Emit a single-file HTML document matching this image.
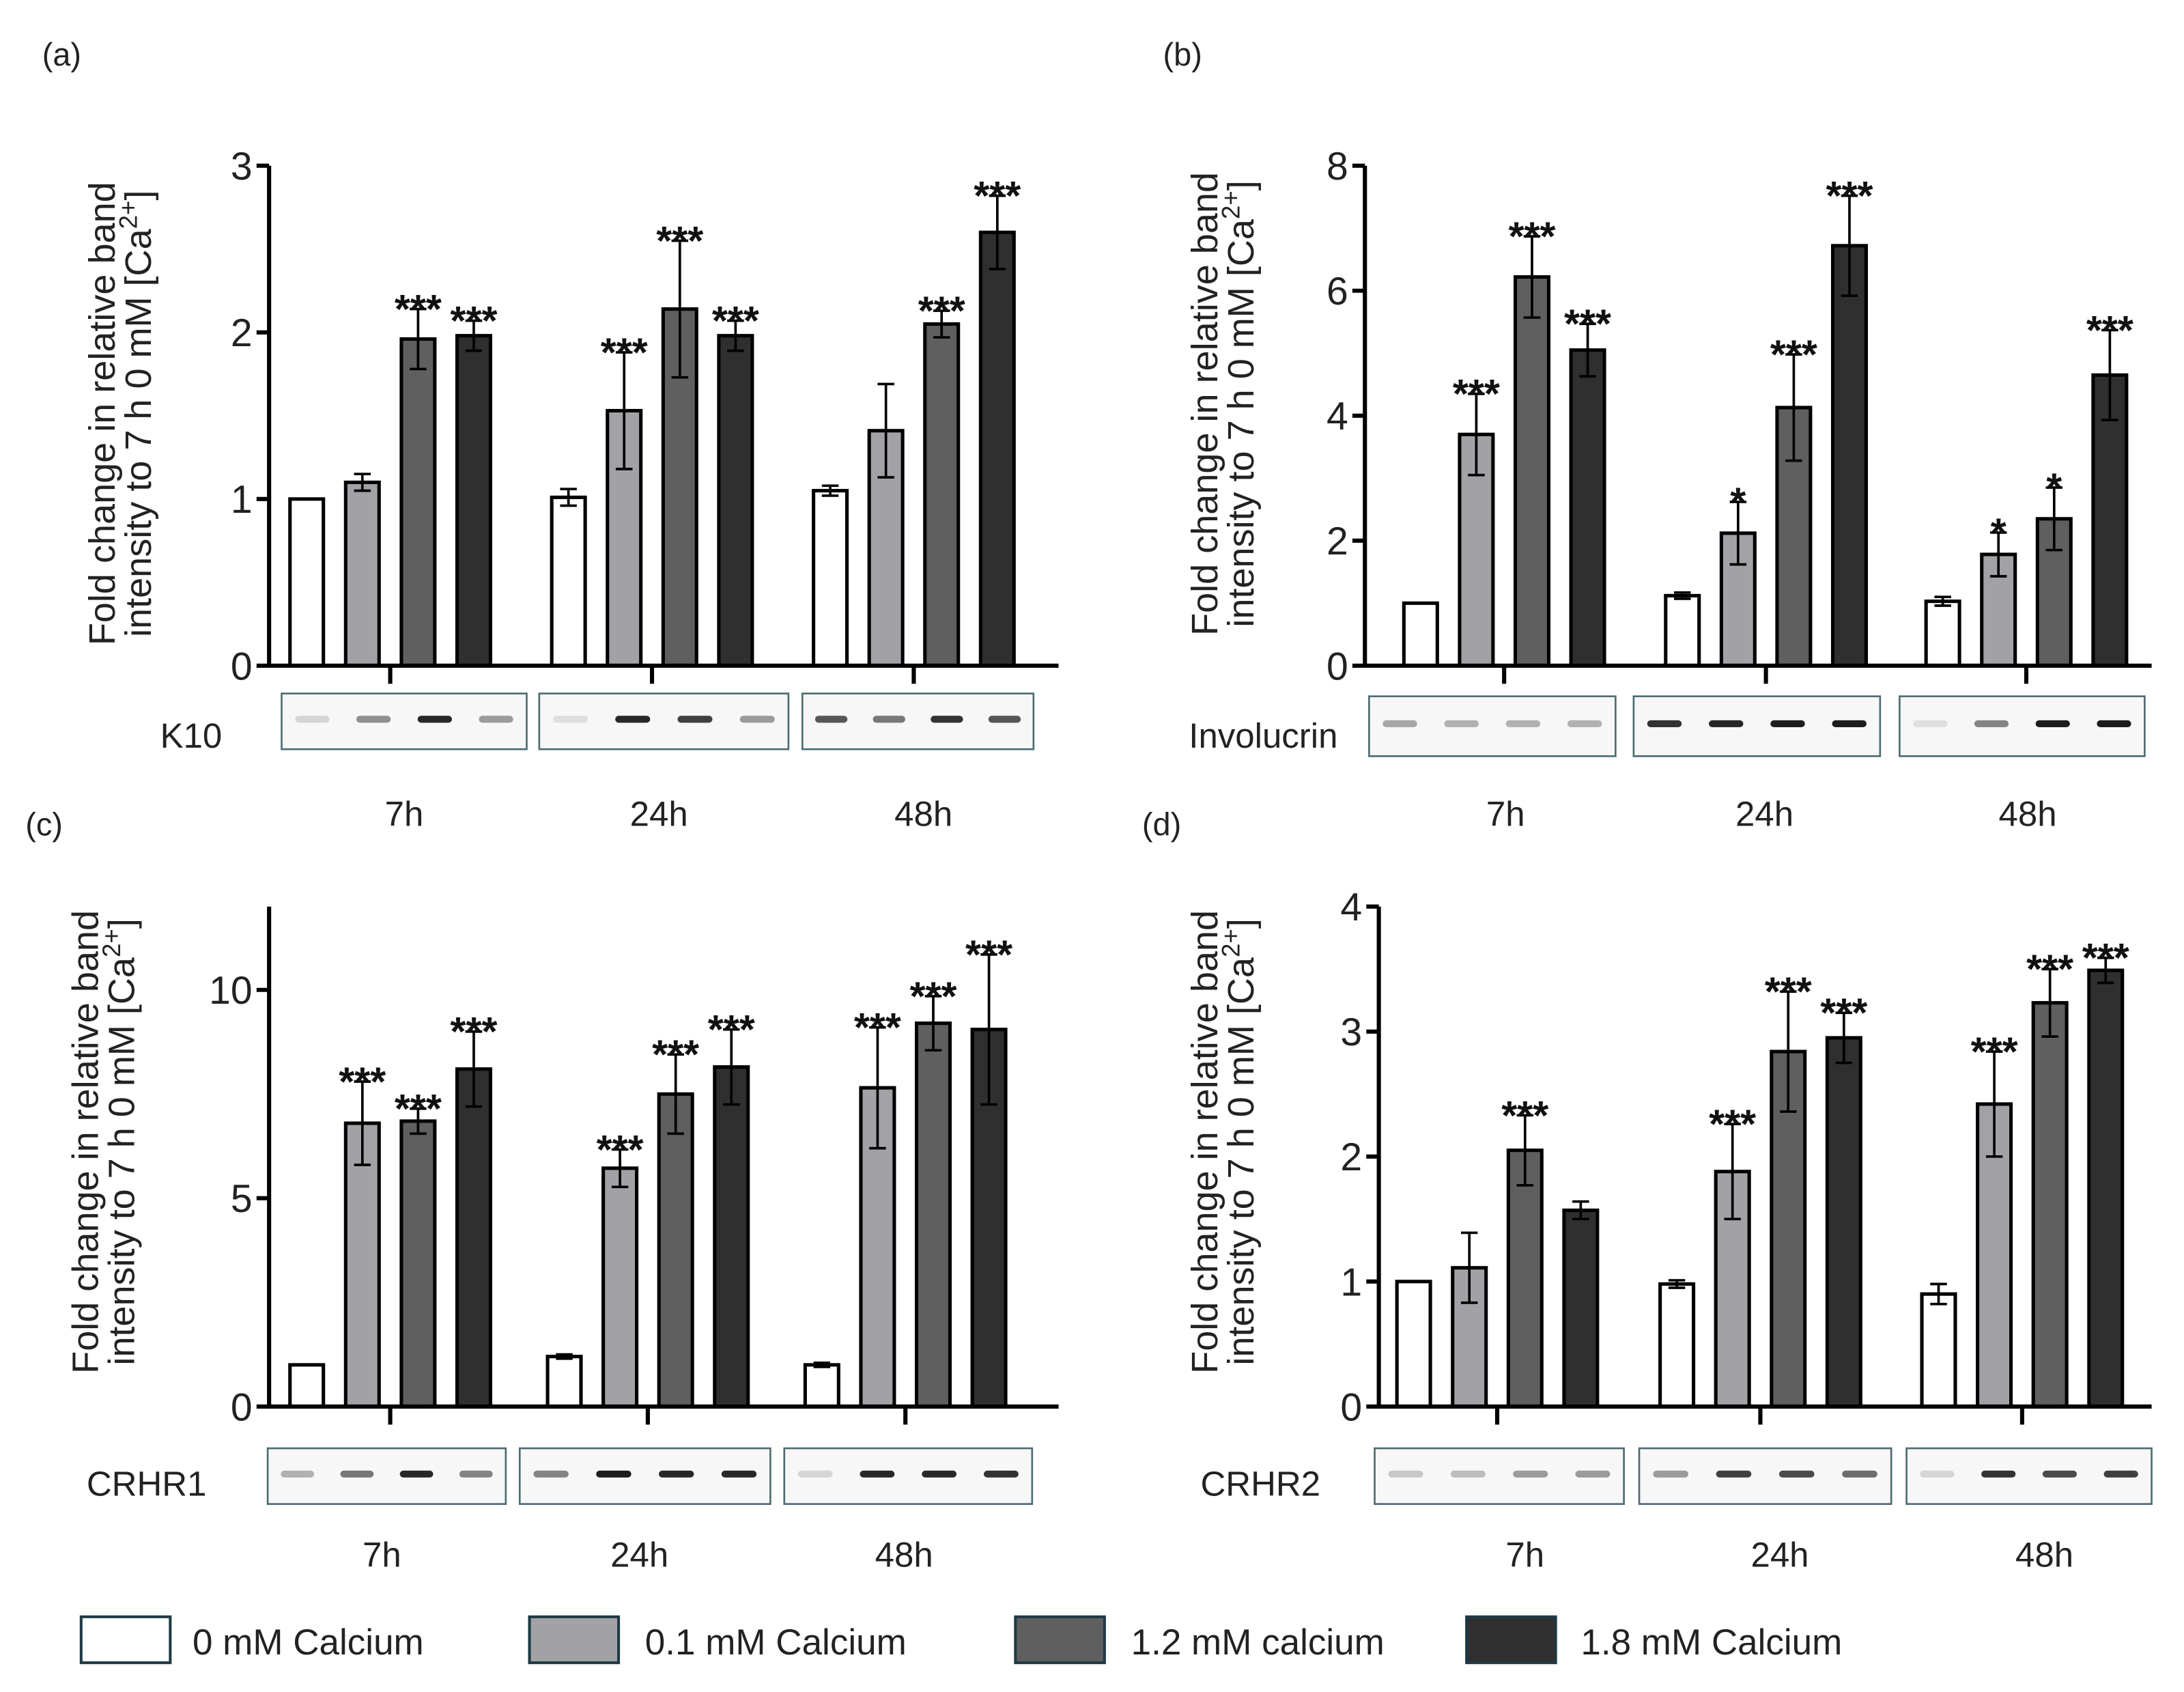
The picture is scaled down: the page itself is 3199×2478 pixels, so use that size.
<!DOCTYPE html>
<html><head><meta charset="utf-8"><style>
html,body{margin:0;padding:0;background:#fff;}
svg{display:block;font-family:"Liberation Sans",sans-serif;}
</style></head><body>
<svg id="fig" width="3199" height="2478" viewBox="0 0 1568 1215" xmlns="http://www.w3.org/2000/svg">
<rect width="1568" height="1215" fill="#fff"/>
</svg>
<script>
const groups = ["7h","24h","48h"];
const seriesNames = ["0 mM Calcium","0.1 mM Calcium","1.2 mM calcium","1.8 mM Calcium"];
const colors = ["#ffffff","#a2a2a6","#5f5f5f","#2f2f2f"];
// panel a (K10)
const aVals = [[1.0,1.10,1.96,1.98],[1.01,1.53,2.14,1.98],[1.05,1.41,2.05,2.60]];
const aErr  = [[0,0.05,0.18,0.09],[0.05,0.35,0.41,0.09],[0.03,0.28,0.08,0.22]];
const aSig  = [["","","***","***"],["","***","***","***"],["","","***","***"]];
const aTicks = [0,1,2,3];
// panel b (Involucrin)
const bVals = [[1.0,3.70,6.22,5.05],[1.12,2.12,4.13,6.72],[1.03,1.78,2.35,4.65]];
const bErr  = [[0,0.65,0.65,0.42],[0.05,0.50,0.85,0.80],[0.07,0.35,0.50,0.72]];
const bSig  = [["","***","***","***"],["","*","***","***"],["","*","*","***"]];
const bTicks = [0,2,4,6,8];
// panel c (CRHR1)
const cVals = [[1.0,6.80,6.85,8.10],[1.20,5.72,7.50,8.15],[1.0,7.65,9.20,9.05]];
const cErr  = [[0,1.0,0.30,0.90],[0.05,0.45,0.95,0.90],[0.05,1.45,0.65,1.80]];
const cSig  = [["","***","***","***"],["","***","***","***"],["","***","***","***"]];
const cTicks = [0,5,10];
// panel d (CRHR2)
const dVals = [[1.0,1.11,2.05,1.57],[0.98,1.88,2.84,2.95],[0.90,2.42,3.23,3.49]];
const dErr  = [[0,0.28,0.28,0.07],[0.03,0.38,0.48,0.20],[0.08,0.42,0.27,0.10]];
const dSig  = [["","","***",""],["","***","***","***"],["","***","***","***"]];
const dTicks = [0,1,2,3,4];

const NS="http://www.w3.org/2000/svg";
const svg=document.getElementById('fig');
function el(tag,attrs,parent,text){const e=document.createElementNS(NS,tag);for(const k in attrs)e.setAttribute(k,attrs[k]);if(text!==undefined)e.textContent=text;(parent||svg).appendChild(e);return e;}

function panel(cfg){
  const g=el('g',{});
  
  
  const ys=v=>cfg.y0-(v-0)*(cfg.y0-cfg.yTop)/cfg.max;
  const xs=(gi,si)=>cfg.gStart[gi]+si*cfg.step;
  const pl=el('text',{x:cfg.lab[0],y:cfg.lab[1],'font-size':23,fill:'#222'},g,cfg.letter);
  
  
  const t=el('text',{transform:`translate(${cfg.tx},${cfg.ty}) rotate(-90)`,'font-size':26.5,'text-anchor':'middle',fill:'#222'},g);
  
  
  el('tspan',{x:0,y:0},t,'Fold change in relative band');
  el('tspan',{x:0,dy:26},t,'intensity to 7 h 0 mM [Ca');
  el('tspan',{dy:-10,'font-size':18},t,'2+');
  el('tspan',{dy:10},t,']');
  cfg.vals.forEach((row,gi)=>row.forEach((v,si)=>{
    const cx=xs(gi,si), w=24;
    const r=el('rect',{x:cx-w/2,y:ys(v),width:w,height:cfg.y0-ys(v),fill:colors[si],stroke:'#000','stroke-width':2.5},g);
    
    
    const e=cfg.err[gi][si];
    if(e>0){
      const eb=el('path',{d:`M${cx},${ys(v+e)}V${ys(v-e)}M${cx-6},${ys(v+e)}H${cx+6}M${cx-6},${ys(v-e)}H${cx+6}`,stroke:'#000','stroke-width':1.8,fill:'none'},g);
      
      
    }
    const s=cfg.sig[gi][si];
    if(s){
      const st=el('text',{x:cx,y:ys(v+e)+10,'font-size':29,'font-weight':'bold','text-anchor':'middle',fill:'#111'},g,s);
      
      
    }
  }));
  const ax=el('path',{d:`M${cfg.ax},${cfg.yTop}V${cfg.y0}H${cfg.xEnd}`,stroke:'#000','stroke-width':3,fill:'none'},g);
  
  
  cfg.ticks.forEach(tv=>{
    el('line',{x1:cfg.ax-9,x2:cfg.ax,y1:ys(tv),y2:ys(tv),stroke:'#000','stroke-width':3},g);
    const tl=el('text',{x:cfg.ax-12,y:ys(tv)+10,'font-size':28,'text-anchor':'end',fill:'#222'},g,tv);
    
    
  });
  groups.forEach((gn,gi)=>{
    const cx=(xs(gi,0)+xs(gi,3))/2;
    el('line',{x1:cx,x2:cx,y1:cfg.y0,y2:cfg.y0+13,stroke:'#000','stroke-width':3},g);
    const xl=el('text',{x:cfg.xl[gi],y:cfg.y0+115,'font-size':25,'text-anchor':'middle',fill:'#222'},g,gn);
    
    
  });
  const bl=el('text',{x:cfg.blotLab[0],y:cfg.blotLab[1],'font-size':25,'text-anchor':'middle',fill:'#222'},g,cfg.protein);
  
  
  cfg.boxes.forEach((b,bi)=>{
    const bx=el('rect',{x:b[0],y:cfg.by,width:b[1]-b[0],height:cfg.bh,fill:'#f7f7f7',stroke:'#4d6b73','stroke-width':1.3},g);
    
    
    const bw=(b[1]-b[0])/4;
    cfg.bands[bi].forEach((o,li)=>{
      el('rect',{x:b[0]+bw*li+bw*0.22,y:cfg.by+cfg.bh*0.4,width:bw*0.56,height:5,rx:2.5,fill:'#111',opacity:o},g);
    });
  });
}

panel({name:'panel-a-k10',letter:'(a)',lab:[30,47],tx:82,ty:297,vals:aVals,err:aErr,sig:aSig,ticks:aTicks,max:3,y0:478,yTop:119,ax:193,xEnd:760,
  gStart:[220,408,596],step:40,xl:[290,473,663],protein:'K10',blotLab:[137,537],by:498,bh:40,
  boxes:[[202,378],[387,566],[576,742]],bands:[[0.15,0.45,0.9,0.4],[0.1,0.9,0.8,0.4],[0.7,0.55,0.85,0.7]]});
panel({name:'panel-b-involucrin',letter:'(b)',lab:[835,47],tx:874,ty:290,vals:bVals,err:bErr,sig:bSig,ticks:bTicks,max:8,y0:478,yTop:119,ax:980,xEnd:1545,
  gStart:[1020,1208,1395],step:40,xl:[1081,1267,1456],protein:'Involucrin',blotLab:[907,537],by:500,bh:43,
  boxes:[[983,1160],[1173,1350],[1364,1540]],bands:[[0.35,0.3,0.3,0.3],[0.85,0.9,0.95,0.95],[0.1,0.5,0.95,0.95]]});
panel({name:'panel-c-crhr1',letter:'(c)',lab:[18,600],tx:70,ty:820,vals:cVals,err:cErr,sig:cSig,ticks:cTicks,max:12,y0:1010,yTop:651,ax:193,xEnd:760,
  gStart:[220,405,590],step:40,xl:[274,459,649],protein:'CRHR1',blotLab:[105,1074],by:1040,bh:40,
  boxes:[[192,363],[373,553],[563,741]],bands:[[0.3,0.55,0.9,0.5],[0.5,0.95,0.9,0.9],[0.15,0.9,0.9,0.85]]});
panel({name:'panel-d-crhr2',letter:'(d)',lab:[820,600],tx:874,ty:820,vals:dVals,err:dErr,sig:dSig,ticks:dTicks,max:4,y0:1010,yTop:651,ax:990,xEnd:1545,
  gStart:[1015,1204,1392],step:40,xl:[1095,1278,1468],protein:'CRHR2',blotLab:[905,1074],by:1040,bh:40,
  boxes:[[987,1166],[1177,1358],[1369,1545]],bands:[[0.2,0.25,0.4,0.4],[0.4,0.8,0.75,0.6],[0.15,0.85,0.75,0.8]]});

const legX=[58,380,729,1053], legT=[138,463,812,1135];
seriesNames.forEach((n,i)=>{
  const g=el('g',{});
  
  
  el('rect',{x:legX[i],y:1161,width:64,height:33,fill:colors[i],stroke:'#1f3a44','stroke-width':2},g);
  el('text',{x:legT[i],y:1188,'font-size':26,fill:'#222'},g,n);
});
</script>
</body></html>
